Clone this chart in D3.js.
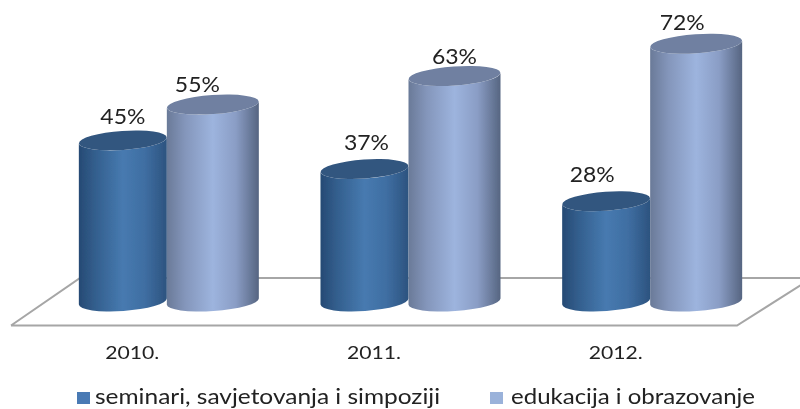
<!DOCTYPE html>
<html>
<head>
<meta charset="utf-8">
<script src="https://cdnjs.cloudflare.com/ajax/libs/d3/7.8.5/d3.min.js"></script>
<style>
html, body { margin: 0; padding: 0; background: #fff; }
svg { display: block; }
text { font-family: Lato, "Open Sans", sans-serif; fill: #222; }
</style>
</head>
<body>
<div id="chart"></div>
<script>
var years = ["2010.", "2011.", "2012."];
var seriesNames = ["seminari, savjetovanja i simpoziji", "edukacija i obrazovanje"];
var seminari = [45, 37, 28];
var edukacija = [55, 63, 72];

var width = 800, height = 409;
var tilt = 4, ry = 9.5;   // cylinder cap ellipse

var svg = d3.select("#chart").append("svg")
	.attr("width", width)
	.attr("height", height);

var defs = svg.append("defs");
defs.append("filter").attr("id", "soft")
	.append("feGaussianBlur").attr("stdDeviation", 0.5);

function sideGradient(id, stops) {
	var g = defs.append("linearGradient").attr("id", id);
	stops.forEach(function (s) {
		g.append("stop").attr("offset", s[0]).attr("stop-color", s[1]);
	});
}
sideGradient("darkSide", [[0, "#264a74"], [0.2, "#34608f"], [0.5, "#477ab0"], [0.75, "#3f6ea2"], [1, "#2c537f"]]);
sideGradient("lightSide", [[0, "#6a7a98"], [0.2, "#8496bb"], [0.5, "#9db4de"], [0.75, "#8a9dc5"], [1, "#566581"]]);

var x = d3.scaleBand().domain(years).range([46, 771]);
var inner = d3.scaleBand().domain([0, 1]).range([x.bandwidth() / 2 - 88, x.bandwidth() / 2 + 88]);
var y = d3.scaleLinear().domain([0, 100]).range([301.5, -56.5]);

var series = [
	{ name: seriesNames[0], values: seminari, side: "url(#darkSide)", top: "#33567f", swatch: "#4a7ab4",
		labelDx: [0, 2, -14], labelDy: [-16, -19, -19] },
	{ name: seriesNames[1], values: edukacija, side: "url(#lightSide)", top: "#6f80a1", swatch: "#9ab2da",
		labelDx: [-15.5, 0, -14], labelDy: [-12.5, -12, -13.5] }
];

var root = svg.append("g").attr("filter", "url(#soft)");

// floor of the 3D plot
root.append("path")
	.attr("d", d3.line()([[11, 325.5], [737, 325.5], [812, 278], [80, 278], [11, 325.5]]))
	.attr("fill", "none")
	.attr("stroke", "#a6a6a6")
	.attr("stroke-width", 2);

function cylinder(cx, topY, baseY, w) {
	var r = w / 2, a = tilt * Math.PI / 180;
	var dy = r * Math.sin(a);
	var p = "M" + (cx - r) + "," + (topY + dy) +
		"L" + (cx - r) + "," + (baseY + dy) +
		"A" + r + "," + ry + " " + (-tilt) + " 0 0 " + (cx + r) + "," + (baseY - dy) +
		"L" + (cx + r) + "," + (topY - dy) +
		"A" + r + "," + ry + " " + (-tilt) + " 0 1 " + (cx - r) + "," + (topY + dy) + "Z";
	return p;
}

years.forEach(function (yr, i) {
	series.forEach(function (s, k) {
		var w = k === 0 ? 88 : 92;
		var cx = x(yr) + inner(k) + w / 2;
		var g = root.append("g");
		g.append("path")
			.attr("d", cylinder(cx, y(s.values[i]), y(0), w))
			.attr("fill", s.side);
		g.append("ellipse")
			.attr("cx", cx).attr("cy", y(s.values[i]))
			.attr("rx", w / 2).attr("ry", ry)
			.attr("transform", "rotate(" + (-tilt) + " " + cx + " " + y(s.values[i]) + ")")
			.attr("fill", s.top);
		root.append("text")
			.attr("x", cx + s.labelDx[i])
			.attr("y", y(s.values[i]) + s.labelDy[i])
			.attr("text-anchor", "middle")
			.attr("font-size", 22)
			.attr("textLength", 45)
			.attr("lengthAdjust", "spacingAndGlyphs")
			.text(s.values[i] + "%");
	});
});

// category axis, shifted left because of the 3D projection
var axis = root.append("g")
	.attr("transform", "translate(-34.5,341)")
	.call(d3.axisBottom(x).tickSize(0).tickPadding(5));
axis.select(".domain").remove();
axis.selectAll("text")
	.attr("font-family", "Lato")
	.attr("font-size", 18)
	.attr("fill", "#222")
	.attr("dy", "0.71em")
	.attr("textLength", 54)
	.attr("lengthAdjust", "spacingAndGlyphs");

// legend
var legendX = [[77, 95, 345], [490, 511, 244]];
series.forEach(function (s, k) {
	root.append("rect")
		.attr("x", legendX[k][0]).attr("y", 392)
		.attr("width", 13).attr("height", 12)
		.attr("fill", s.swatch);
	root.append("text")
		.attr("x", legendX[k][1]).attr("y", 404)
		.attr("font-size", 21)
		.attr("textLength", legendX[k][2])
		.attr("lengthAdjust", "spacingAndGlyphs")
		.text(s.name);
});
</script>
</body>
</html>
